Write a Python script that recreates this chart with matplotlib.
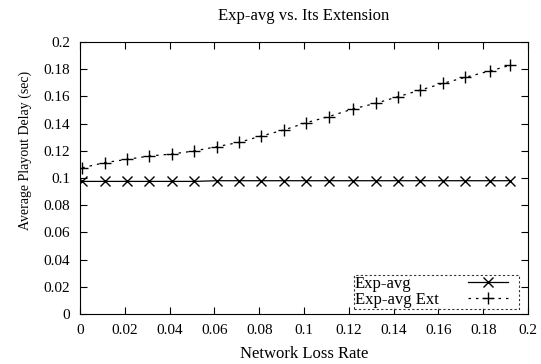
import matplotlib
matplotlib.use("Agg")
import matplotlib.pyplot as plt
from matplotlib.offsetbox import DrawingArea, HPacker

# Values
loss_rate = [0.001, 0.011, 0.021, 0.031, 0.041, 0.051, 0.061, 0.071, 0.081, 0.091,
             0.101, 0.111, 0.122, 0.132, 0.142, 0.152, 0.162, 0.172, 0.183, 0.192]
exp_avg = [0.0975, 0.0975, 0.0975, 0.0975, 0.0975, 0.0975, 0.098, 0.098, 0.098, 0.098,
           0.098, 0.098, 0.098, 0.098, 0.098, 0.098, 0.098, 0.098, 0.098, 0.098]
exp_avg_ext = [0.1075, 0.1113, 0.1137, 0.1162, 0.1176, 0.1199, 0.1230, 0.1262, 0.1309, 0.1353,
               0.1407, 0.1451, 0.1509, 0.1549, 0.1598, 0.1647, 0.1696, 0.1740, 0.1787, 0.1828]

xticks = [0, 0.02, 0.04, 0.06, 0.08, 0.1, 0.12, 0.14, 0.16, 0.18, 0.2]
yticks = [0, 0.02, 0.04, 0.06, 0.08, 0.1, 0.12, 0.14, 0.16, 0.18, 0.2]

plt.rcParams['font.family'] = ['Liberation Serif', 'DejaVu Serif']

fig = plt.figure(figsize=(5.41, 3.64), dpi=100)
ax = fig.add_axes([80 / 541, 1 - 314 / 364, 448 / 541, 272 / 364])

ax.plot(loss_rate, exp_avg, color='black', linewidth=0.9, marker='x',
        markersize=7, markeredgewidth=1.0, label='Exp-avg')
ax.plot(loss_rate, exp_avg_ext, color='black', linewidth=0.9, dashes=(2, 4),
        marker='+', markersize=8, markeredgewidth=1.0, label='Exp-avg Ext')

ax.set_xlim(0, 0.2)
ax.set_ylim(0, 0.2)
ax.set_xticks(xticks)
ax.set_yticks(yticks)
ax.set_xticklabels([f'{t:g}' for t in xticks])
ax.set_yticklabels([f'{t:g}' for t in yticks])
ax.tick_params(direction='in', top=True, right=True, labelsize=11, length=5, width=0.8, pad=7)

ax.set_title('Exp-avg vs. Its Extension', fontsize=12, pad=16)
ax.set_xlabel('Network Loss Rate', fontsize=12, labelpad=7)
ax.set_ylabel('Average Playout Delay (sec)', fontsize=10)
ax.yaxis.set_label_coords(-0.107, 0.60)

leg = ax.legend(loc='lower right', markerfirst=False, fontsize=12, frameon=True,
                fancybox=False, borderpad=0.05, labelspacing=0.0, handlelength=2.4,
                borderaxespad=0.3, handletextpad=1.75, bbox_to_anchor=(0.99, 0.0))
leg.get_frame().set_edgecolor('black')
leg.get_frame().set_linestyle((0, (2, 2)))
leg.get_frame().set_linewidth(0.8)

# left-align the labels, keep the samples lined up on the right,
# and leave some room between the samples and the right edge of the box
fig.canvas.draw()
renderer = fig.canvas.get_renderer()
widths = [t.get_window_extent(renderer).width for t in leg.get_texts()]
maxw = max(widths)
for col in leg._legend_handle_box.get_children():
    col.align = 'left'
    for item, w in zip(col.get_children(), widths):
        item.sep = item.sep + (maxw - w) * 72 / fig.dpi
        kids = item.get_children()
        kids[1] = HPacker(children=[kids[1], DrawingArea(7.2, 1)], pad=0, sep=0,
                          align='baseline')

fig.savefig('out.png', dpi=100)
